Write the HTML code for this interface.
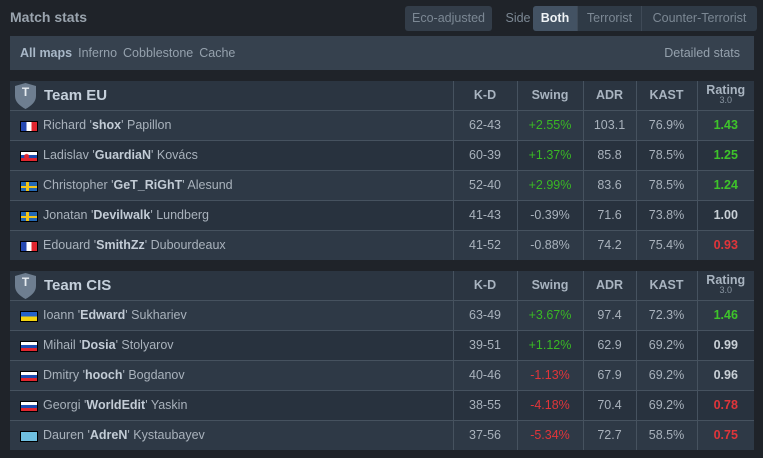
<!DOCTYPE html>
<html><head><meta charset="utf-8"><style>
*{margin:0;padding:0;box-sizing:border-box}
body{width:763px;height:458px;background:#1f2329;font-family:"Liberation Sans","DejaVu Sans",sans-serif;color:#a9b2bc;font-size:12.5px;position:relative;overflow:hidden}
.title{position:absolute;left:10px;top:9px;font-weight:bold;font-size:14px;color:#9aa4ae}
.btn{position:absolute;top:6px;height:25px;line-height:25px;font-size:12.5px;color:#7c8894;text-align:center}
.eco{left:405px;width:87px;background:#333d49;border-radius:3px}
.side{left:505px;width:26px}
.seg{left:533px;width:224px;background:#2f3a46;border-radius:3px;display:flex;overflow:hidden}
.seg div{border-right:1px solid #3f4a57}
.seg .b{background:#435263;color:#eef2f5;font-weight:bold;width:45px}
.maps{position:absolute;left:10px;top:36px;width:744px;height:34px;background:#36414e;line-height:34px;padding-left:10px;color:#95a1ad}
.maps b{color:#a9b8c8;margin-right:6px}
.maps span{margin-right:6px}
.maps .r{position:absolute;right:8px;top:0}
table{position:absolute;left:10px;width:744px;border-collapse:collapse}
td{height:30px;border-top:1px solid #46525f;color:#a9b2bc;padding:0}
td.n{padding-left:33px;position:relative}
td.n b{color:#c3ccd6}
td.c{text-align:center;border-left:1px solid #46525f}
tr.h td{height:29px;border-top:none;background:#2b3541;font-weight:bold;color:#a9b4c0}
tr.h td.t{font-size:15px;color:#c5d0db;padding-left:34px;position:relative}
tr.o td{background:#2e3946}
tr.e td{background:#28323e}
.g{color:#39b824}.rd{color:#e0353a}.gb{color:#3ec42a;font-weight:bold}.rb{color:#e0353a;font-weight:bold}.wb{color:#c9d0d6;font-weight:bold}
.rt{line-height:10px}.rt small{display:block;font-size:9px;font-weight:normal;color:#8a96a2}
.shield{position:absolute;left:5px;top:2px;width:21px;height:26px}
.f{position:absolute;left:10px;top:10px;width:18px;height:11px;border:1px solid #000}
.fr{background:linear-gradient(90deg,#2548b0 33%,#fff 33% 66%,#e0262f 66%)}
.sk{background:radial-gradient(circle at 35% 50%,#e0262f 2px,transparent 3px),linear-gradient(#fff 33%,#1d4cb0 33% 66%,#e0262f 66%)}
.se{background:linear-gradient(90deg,transparent 5px,#f0c419 5px 8px,transparent 8px),linear-gradient(#2367b3 4px,#f0c419 4px 6px,#2367b3 6px)}
.ua{background:linear-gradient(#2461c9 50%,#f2d20f 50%)}
.ru{background:linear-gradient(#fff 33%,#1d4cb0 33% 66%,#e0262f 66%)}
.kz{background:#6fbfe0}
</style></head><body>
<div class="title">Match stats</div>
<div class="btn eco">Eco-adjusted</div>
<div class="btn side">Side</div>
<div class="btn seg"><div class="b">Both</div><div style="width:64px">Terrorist</div><div style="flex:1;border:none">Counter-Terrorist</div></div>
<div class="maps"><b>All maps</b><span>Inferno</span><span>Cobblestone</span><span>Cache</span><span class="r">Detailed stats</span></div>

<table style="top:81px">
<colgroup><col style="width:443px"><col style="width:64px"><col style="width:66px"><col style="width:53px"><col style="width:61px"><col style="width:57px"></colgroup>
<tr class="h"><td class="t"><svg class="shield" viewBox="0 0 21 26"><path d="M10.5 0 L21 3 L21 13 C21 19 16 23 10.5 26 C5 23 0 19 0 13 L0 3 Z" fill="#6e7e90"/><text x="10.5" y="13" text-anchor="middle" font-family="Liberation Sans" font-weight="bold" font-size="12" fill="#e6ebf0">T</text></svg>Team EU</td><td class="c">K-D</td><td class="c">Swing</td><td class="c">ADR</td><td class="c">KAST</td><td class="c rt">Rating<small>3.0</small></td></tr>
<tr class="o"><td class="n"><div class="f fr"></div>Richard '<b>shox</b>' Papillon</td><td class="c">62-43</td><td class="c g">+2.55%</td><td class="c">103.1</td><td class="c">76.9%</td><td class="c gb">1.43</td></tr>
<tr class="e"><td class="n"><div class="f sk"></div>Ladislav '<b>GuardiaN</b>' Kovács</td><td class="c">60-39</td><td class="c g">+1.37%</td><td class="c">85.8</td><td class="c">78.5%</td><td class="c gb">1.25</td></tr>
<tr class="o"><td class="n"><div class="f se"></div>Christopher '<b>GeT_RiGhT</b>' Alesund</td><td class="c">52-40</td><td class="c g">+2.99%</td><td class="c">83.6</td><td class="c">78.5%</td><td class="c gb">1.24</td></tr>
<tr class="e"><td class="n"><div class="f se"></div>Jonatan '<b>Devilwalk</b>' Lundberg</td><td class="c">41-43</td><td class="c">-0.39%</td><td class="c">71.6</td><td class="c">73.8%</td><td class="c wb">1.00</td></tr>
<tr class="o"><td class="n"><div class="f fr"></div>Edouard '<b>SmithZz</b>' Dubourdeaux</td><td class="c">41-52</td><td class="c">-0.88%</td><td class="c">74.2</td><td class="c">75.4%</td><td class="c rb">0.93</td></tr>
</table>

<table style="top:271px">
<colgroup><col style="width:443px"><col style="width:64px"><col style="width:66px"><col style="width:53px"><col style="width:61px"><col style="width:57px"></colgroup>
<tr class="h"><td class="t"><svg class="shield" viewBox="0 0 21 26"><path d="M10.5 0 L21 3 L21 13 C21 19 16 23 10.5 26 C5 23 0 19 0 13 L0 3 Z" fill="#6e7e90"/><text x="10.5" y="13" text-anchor="middle" font-family="Liberation Sans" font-weight="bold" font-size="12" fill="#e6ebf0">T</text></svg>Team CIS</td><td class="c">K-D</td><td class="c">Swing</td><td class="c">ADR</td><td class="c">KAST</td><td class="c rt">Rating<small>3.0</small></td></tr>
<tr class="o"><td class="n"><div class="f ua"></div>Ioann '<b>Edward</b>' Sukhariev</td><td class="c">63-49</td><td class="c g">+3.67%</td><td class="c">97.4</td><td class="c">72.3%</td><td class="c gb">1.46</td></tr>
<tr class="e"><td class="n"><div class="f ru"></div>Mihail '<b>Dosia</b>' Stolyarov</td><td class="c">39-51</td><td class="c g">+1.12%</td><td class="c">62.9</td><td class="c">69.2%</td><td class="c wb">0.99</td></tr>
<tr class="o"><td class="n"><div class="f ru"></div>Dmitry '<b>hooch</b>' Bogdanov</td><td class="c">40-46</td><td class="c rd">-1.13%</td><td class="c">67.9</td><td class="c">69.2%</td><td class="c wb">0.96</td></tr>
<tr class="e"><td class="n"><div class="f ru"></div>Georgi '<b>WorldEdit</b>' Yaskin</td><td class="c">38-55</td><td class="c rd">-4.18%</td><td class="c">70.4</td><td class="c">69.2%</td><td class="c rb">0.78</td></tr>
<tr class="o"><td class="n"><div class="f kz"></div>Dauren '<b>AdreN</b>' Kystaubayev</td><td class="c">37-56</td><td class="c rd">-5.34%</td><td class="c">72.7</td><td class="c">58.5%</td><td class="c rb">0.75</td></tr>
</table>
</body></html>
